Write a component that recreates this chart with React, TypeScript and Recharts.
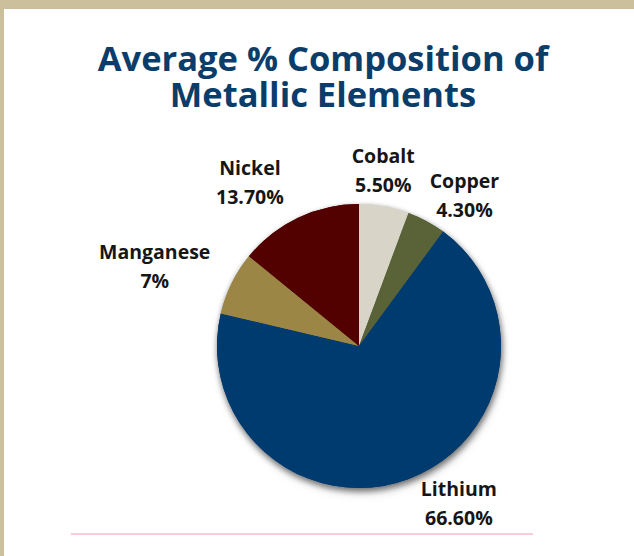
import React from 'react';
import { PieChart, Pie, Cell } from 'recharts';

const elements = ['Cobalt', 'Copper', 'Lithium', 'Manganese', 'Nickel'];
const shares = [5.5, 4.3, 66.6, 7, 13.7];
const shareLabels = ['5.50%', '4.30%', '66.60%', '7%', '13.70%'];

const COLORS = ['#d8d4c8', '#5a6238', '#003b70', '#9b8646', '#520000'];

// hand tweaks so labels land where Excel's "best fit" put them
const labelNudge: Record<string, [number, number]> = {
  Cobalt: [-8, 4],
  Copper: [19, 10],
  Lithium: [37, -13],
  Manganese: [-41, 1],
  Nickel: [-31, 1],
};

const RADIAN = Math.PI / 180;

const renderLabel = (props: any) => {
  const { cx, cy, midAngle, outerRadius, index } = props;
  const name = elements[index];
  const r = outerRadius + 40;
  const [dx, dy] = labelNudge[name] || [0, 0];
  const x = cx + r * Math.cos(-midAngle * RADIAN) + dx;
  const y = cy + r * Math.sin(-midAngle * RADIAN) + dy;
  return (
    <text
      x={x}
      y={y}
      textAnchor="middle"
      fill="#161616"
      style={{ fontFamily: '"Open Sans", sans-serif', fontWeight: 700, fontSize: 19.5 }}
    >
      <tspan x={x} dy={-8}>{name}</tspan>
      <tspan x={x} dy={29}>{shareLabels[index]}</tspan>
    </text>
  );
};

const App: React.FC = () => {
  const data = elements.map((name, i) => ({ name, value: shares[i] }));
  const noMargin = { top: 0, right: 0, bottom: 0, left: 0 };

  return (
    <div
      style={{
        position: 'absolute',
        top: 0,
        left: 0,
        width: 634,
        height: 556,
        background: '#cbbf9c',
        overflow: 'hidden',
      }}
    >
      <style>{`.pie-shadow { filter: drop-shadow(1px 3px 3px rgba(0,0,0,0.35)); }`}</style>
      <div
        style={{
          position: 'absolute',
          top: 9,
          left: 4,
          right: 0,
          bottom: 0,
          background: '#ffffff',
        }}
      />
      <div
        style={{
          position: 'absolute',
          top: 40,
          left: 0,
          width: 646,
          textAlign: 'center',
          fontFamily: '"Open Sans", sans-serif',
          fontWeight: 700,
          fontSize: 34.5,
          lineHeight: '36px',
          color: '#0b3d6b',
        }}
      >
        Average % Composition of
        <br />
        Metallic Elements
      </div>
      <div
        style={{
          position: 'absolute',
          top: 533,
          left: 71,
          width: 462,
          height: 2,
          background: '#f7cbd9',
        }}
      />
      <div style={{ position: 'absolute', top: 0, left: 0 }}>
        <PieChart width={634} height={556} margin={noMargin}>
          <Pie
            className="pie-shadow"
            data={data}
            dataKey="value"
            nameKey="name"
            cx={359}
            cy={346}
            outerRadius={142}
            startAngle={90}
            endAngle={-270}
            stroke="none"
            isAnimationActive={false}
          >
            {data.map((d, i) => (
              <Cell key={d.name} fill={COLORS[i]} />
            ))}
          </Pie>
          <Pie
            data={data}
            dataKey="value"
            nameKey="name"
            cx={359}
            cy={346}
            outerRadius={142}
            startAngle={90}
            endAngle={-270}
            stroke="none"
            label={renderLabel}
            labelLine={false}
            isAnimationActive={false}
          >
            {data.map((d, i) => (
              <Cell key={d.name} fill={COLORS[i]} />
            ))}
          </Pie>
        </PieChart>
      </div>
    </div>
  );
};

export default App;
